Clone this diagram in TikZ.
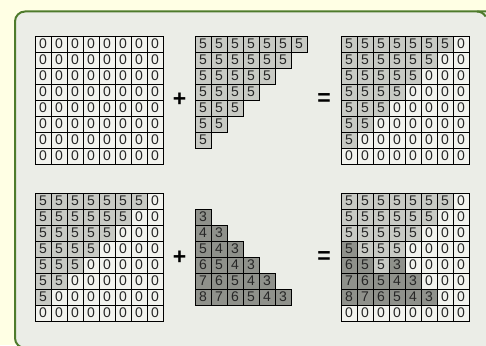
\documentclass[tikz,border=0pt]{standalone}
\usepackage{fontspec}
\setmainfont{Liberation Sans}
\usepackage{tikz}
\usetikzlibrary{positioning}
\definecolor{PageCream}{HTML}{FFFFE4}
\definecolor{PanelGray}{HTML}{EBEDE7}
\definecolor{PanelGreen}{HTML}{4E7B2C}
\definecolor{fillw}{HTML}{F2F3EE}
\definecolor{filll}{HTML}{C8CAC4}
\definecolor{filld}{HTML}{8F918B}
\tikzstyle{cell} = [
  rectangle, draw=black, line width=0.7pt,
  minimum size=16pt, inner sep=0pt,
  font=\fontsize{14}{14}\selectfont, text=black!85
]
\tikzstyle{op} = [font=\fontsize{23}{23}\selectfont\bfseries, inner sep=0pt]

\begin{document}
\begin{tikzpicture}[x=1pt, y=-1pt]

  % Page and panel
  \useasboundingbox (0,0) rectangle (486,345);
  \clip (0,0) rectangle (486,345);
  \fill[PageCream] (0,0) rectangle (486,345);
  \fill[PanelGray, rounded corners=10pt] (15,11.5) rectangle (491,348);
  \draw[PanelGreen, line width=2pt, rounded corners=10pt]
    (492,11.5) -- (15,11.5) -- (15,348) -- (30,348);
  \draw[PanelGreen, line width=2pt] (477,11.5) arc[start angle=90, end angle=30, radius=10pt];

  % Top row: empty buffer
  \foreach \r in {0,...,7}
    \foreach \c in {0,...,7}
      \node[cell, fill=fillw] (a-\r-\c) at ({43+16*\c}, {44+16*\r}) {0};

  % Top row: first triangle
  \foreach \r in {0,...,6} {
    \pgfmathtruncatemacro\last{6-\r}
    \foreach \c in {0,...,\last}
      \node[cell, fill=filll] (b-\r-\c) at ({203+16*\c}, {44+16*\r}) {5};
  }

  % Top result, which is also the bottom start
  \foreach \r in {0,...,7}
    \foreach \c in {0,...,7} {
      \pgfmathtruncatemacro\old{(\c < 7-\r) ? 5 : 0}
      \ifnum\old=5 \def\s{l}\else\def\s{w}\fi
      \node[cell, fill=fill\s] (c-\r-\c) at ({349+16*\c}, {44+16*\r}) {\old};
      \node[cell, fill=fill\s] (d-\r-\c) at ({43+16*\c}, {201+16*\r}) {\old};
    }

  % Bottom row: second triangle
  \foreach \r in {1,...,6} {
    \pgfmathtruncatemacro\last{\r-1}
    \foreach \c in {0,...,\last} {
      \pgfmathtruncatemacro\z{\r+2-\c}
      \node[cell, fill=filld] (e-\r-\c) at ({203+16*\c}, {201+16*\r}) {\z};
    }
  }

  % Bottom result
  \foreach \r in {0,...,7}
    \foreach \c in {0,...,7} {
      \pgfmathtruncatemacro\old{(\c < 7-\r) ? 5 : 0}
      \pgfmathtruncatemacro\new{(\r > 0 && \r < 7 && \c < \r) ? \r+2-\c : -1}
      \ifnum\new<\old
        \ifnum\old=5 \def\s{l}\else\def\s{w}\fi
        \let\z\old
      \else
        \def\s{d}\let\z\new
      \fi
      \node[cell, fill=fill\s] (f-\r-\c) at ({349+16*\c}, {201+16*\r}) {\z};
    }

  % Operators
  \node[op] (plustop) at (179.5,100) {+};
  \node[op] (eqtop) at (324,100) {=};
  \node[op] (plusbot) at (179.5,258) {+};
  \node[op] (eqbot) at (324,258) {=};

\end{tikzpicture}
\end{document}
